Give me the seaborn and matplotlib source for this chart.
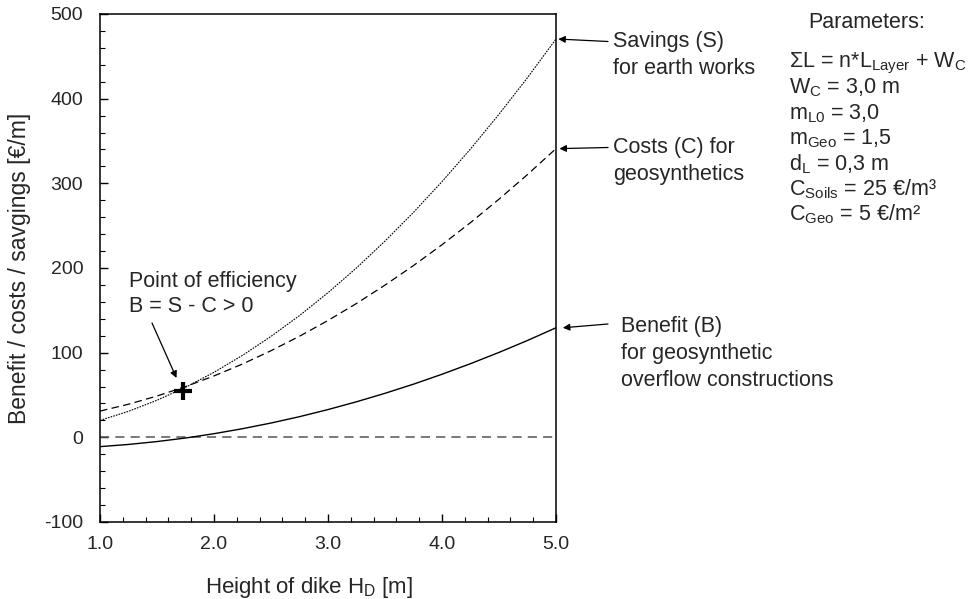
import matplotlib
matplotlib.use("Agg")
import matplotlib.pyplot as plt
import seaborn as sns
import pandas as pd
from matplotlib.ticker import MultipleLocator, FormatStrFormatter

# ---- data ----
height = [1.00, 1.25, 1.50, 1.75, 2.00, 2.25, 2.50, 2.75, 3.00,
          3.25, 3.50, 3.75, 4.00, 4.25, 4.50, 4.75, 5.00]
savings = [20.0, 30.7, 43.8, 59.1, 76.8, 96.8, 119.2, 143.8, 170.8,
           200.1, 231.8, 265.7, 302.0, 340.6, 381.6, 424.8, 470.4]
costs = [31.0, 39.1, 48.8, 59.9, 72.5, 86.6, 102.3, 119.4, 138.0,
         158.1, 179.8, 202.9, 227.5, 253.6, 281.3, 310.4, 341.0]
benefit = [-11.0, -8.4, -5.0, -0.8, 4.3, 10.2, 16.9, 24.4, 32.8,
           42.0, 52.0, 62.8, 74.5, 87.0, 100.3, 114.4, 129.4]
efficiency_point = (1.73, 55.0)
x_ticks = [1.0, 2.0, 3.0, 4.0, 5.0]
y_ticks = [-100, 0, 100, 200, 300, 400, 500]

df = pd.DataFrame({"H": height, "S": savings, "C": costs, "B": benefit})

sns.set_style("ticks")
plt.rcParams["font.family"] = ["Liberation Sans", "DejaVu Sans"]
plt.rcParams["mathtext.fontset"] = "custom"
plt.rcParams["mathtext.rm"] = "Liberation Sans"
plt.rcParams["mathtext.it"] = "Liberation Sans:italic"
plt.rcParams["mathtext.bf"] = "Liberation Sans:bold"
plt.rcParams["axes.unicode_minus"] = False

fig = plt.figure(figsize=(9.73, 5.99), dpi=100)
ax = fig.add_axes([100 / 973, 77 / 599, 456 / 973, 508 / 599])

ax.axhline(0, color="#555555", lw=1.1, dashes=(6, 4), zorder=1)
sns.lineplot(data=df, x="H", y="S", ax=ax, color="black", lw=0.8,
             linestyle=(0, (1.5, 1.0)))
sns.lineplot(data=df, x="H", y="C", ax=ax, color="black", lw=0.9,
             linestyle=(0, (6, 3.5)))
sns.lineplot(data=df, x="H", y="B", ax=ax, color="black", lw=1.0)
sns.scatterplot(x=[efficiency_point[0]], y=[efficiency_point[1]], ax=ax,
                marker="+", s=185, linewidth=3, color="black", zorder=5)

ax.set_xlim(1.0, 5.0)
ax.set_ylim(-100, 500)
ax.set_xticks(x_ticks)
ax.set_yticks(y_ticks)
ax.xaxis.set_major_formatter(FormatStrFormatter("%.1f"))
ax.xaxis.set_minor_locator(MultipleLocator(0.2))
ax.yaxis.set_minor_locator(MultipleLocator(20))
ax.tick_params(axis="both", which="both", bottom=True, left=True,
               top=False, right=False)
ax.tick_params(axis="both", which="major", direction="in", length=6,
               width=1, labelsize=14, color="black")
ax.tick_params(axis="both", which="minor", direction="in", length=3.5,
               width=0.8, color="black")
ax.tick_params(axis="x", which="major", pad=10)
ax.tick_params(axis="y", which="major", pad=12)
for sp in ax.spines.values():
    sp.set_color("black")
    sp.set_linewidth(1.1)

ax.set_xlabel("Height of dike H$_\\mathrm{D}$ [m]", fontsize=16)
ax.xaxis.set_label_coords((309 - 100) / 456, (522 - 575) / 508)
ax.set_ylabel("Benefit / costs / savgings [€/m]", fontsize=16.5)
ax.yaxis.set_label_coords((31 - 100) / 456, (522 - 268) / 508)

def fx(px):
    return px / 973

def fy(py):
    return 1 - py / 599

FS = 15.5
arrow_kw = dict(arrowstyle="-|>", color="black", lw=0.9,
                mutation_scale=10, shrinkA=0, shrinkB=0)

# right-side arrows and labels
for y_val, y_px, tail_px, head_x, lines, tx in [
    (savings[-1], 41.5, 608, 5.02, ["Savings (S)", "for earth works"], 613),
    (costs[-1], 147.5, 608, 5.03, ["Costs (C) for", "geosynthetics"], 613),
    (benefit[-1], 324, 608, 5.06, ["Benefit (B)", "for geosynthetic",
                                   "overflow constructions"], 621),
]:
    ax.annotate("", xy=(head_x, y_val), xycoords="data",
                xytext=(fx(tail_px), fy(y_px)), textcoords="figure fraction",
                arrowprops=arrow_kw, annotation_clip=False)
    y0 = y_px + (2.5 if tx == 621 else 0)
    for i, ln in enumerate(lines):
        fig.text(fx(tx), fy(y0 + i * 26.8), ln, fontsize=FS,
                 ha="left", va="center")

# point of efficiency
fig.text(fx(129), fy(282), "Point of efficiency", fontsize=FS,
         ha="left", va="center")
fig.text(fx(129), fy(306), "B = S - C > 0", fontsize=FS,
         ha="left", va="center")
ax.annotate("", xy=(fx(176.5), fy(378)), xycoords="figure fraction",
            xytext=(fx(152), fy(323)), textcoords="figure fraction",
            arrowprops=arrow_kw)

# parameters
fig.text(fx(808), fy(23), "Parameters:", fontsize=FS, ha="left", va="center")
params = [
    "ΣL = n*L$_\\mathrm{Layer}$ + W$_\\mathrm{C}$",
    "W$_\\mathrm{C}$ = 3,0 m",
    "m$_\\mathrm{L0}$ = 3,0",
    "m$_\\mathrm{Geo}$ = 1,5",
    "d$_\\mathrm{L}$ = 0,3 m",
    "C$_\\mathrm{Soils}$ = 25 €/m³",
    "C$_\\mathrm{Geo}$ = 5 €/m²",
]
for i, p in enumerate(params):
    fig.text(fx(789), fy(63 + i * 25.2), p, fontsize=FS, ha="left",
             va="center")

fig.savefig("out.png", dpi=100)
